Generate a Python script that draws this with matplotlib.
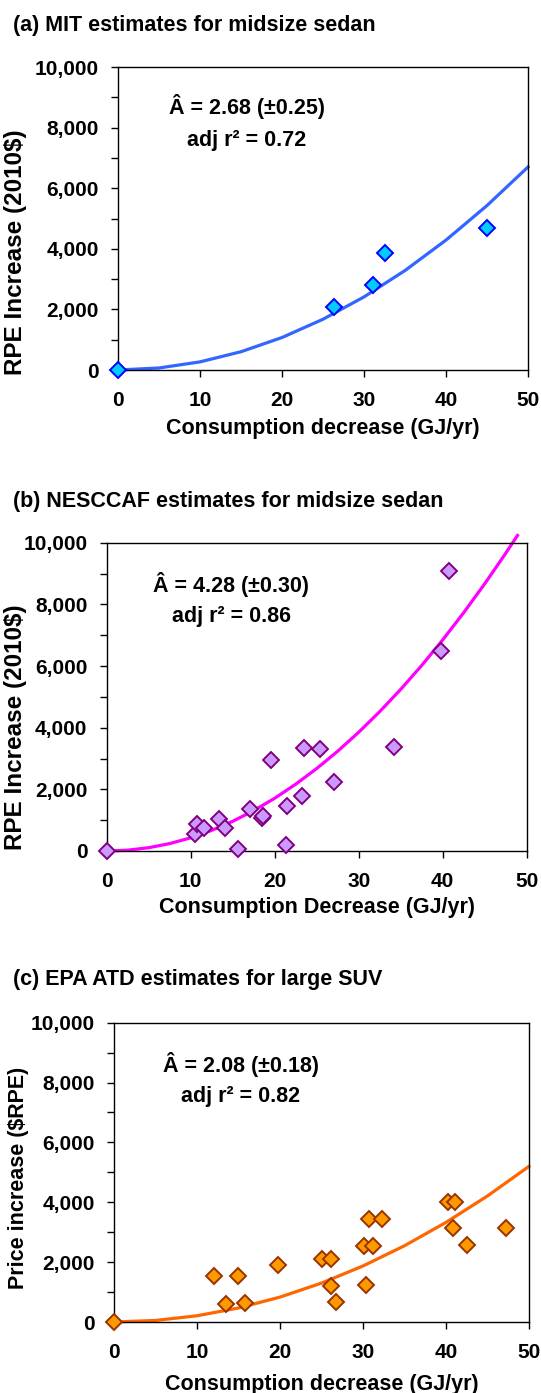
import numpy as np
import matplotlib
matplotlib.use('Agg')
import matplotlib.pyplot as plt
from matplotlib.ticker import MultipleLocator, FuncFormatter

plt.rcParams['font.family'] = ['Liberation Sans', 'DejaVu Sans']
plt.rcParams['font.weight'] = 'bold'

# (a) MIT midsize sedan
mit_x = [0, 26.3, 31.1, 32.6, 45.0]
mit_y = [0, 2090, 2810, 3870, 4700]
mit_fit_x = [0, 5, 10, 15, 20, 25, 30, 35, 40, 45, 50]
mit_fit_y = [0, 67, 268, 603, 1072, 1675, 2412, 3283, 4288, 5427, 6700]

# (b) NESCCAF midsize sedan
nes_x = [0, 10.5, 10.7, 11.6, 13.4, 14.1, 15.6, 17.0, 18.5, 18.6, 19.6,
         21.3, 21.5, 23.3, 23.5, 25.4, 27.0, 34.2, 39.8, 40.7]
nes_y = [0, 560, 886, 752, 1035, 752, 80, 1373, 1080, 1120, 2942,
         210, 1470, 1796, 3353, 3310, 2245, 3375, 6495, 9097]
nes_fit_x = [0, 2.5, 5, 7.5, 10, 12.5, 15, 17.5, 20, 22.5, 25, 27.5, 30,
             32.5, 35, 37.5, 40, 42.5, 45, 47.5, 48.9]
nes_fit_y = [0, 27, 107, 241, 428, 669, 963, 1311, 1712, 2167, 2675, 3237,
             3852, 4521, 5243, 6019, 6848, 7731, 8667, 9657, 10234]

# (c) EPA ATD large SUV
epa_x = [0, 12.0, 13.5, 14.9, 15.8, 19.8, 25.0, 26.1, 26.1, 26.8, 30.1,
         30.7, 31.2, 30.4, 32.3, 40.2, 41.1, 40.9, 42.5, 47.2]
epa_y = [0, 1530, 615, 1545, 635, 1920, 2095, 2105, 1215, 660, 2540,
         3430, 2540, 1250, 3430, 4010, 4010, 3135, 2580, 3150]
epa_fit_x = [0, 5, 10, 15, 20, 25, 30, 35, 40, 45, 50]
epa_fit_y = [0, 52, 208, 468, 832, 1300, 1872, 2548, 3328, 4212, 5200]

titles = ['(a) MIT estimates for midsize sedan',
          '(b) NESCCAF estimates for midsize sedan',
          '(c) EPA ATD estimates for large SUV']
ylabels = ['RPE Increase (2010$)', 'RPE Increase (2010$)', 'Price increase ($RPE)']
xlabels = ['Consumption decrease (GJ/yr)', 'Consumption Decrease (GJ/yr)',
           'Consumption decrease (GJ/yr)']
notes = [('Â = 2.68 (±0.25)', 'adj r² = 0.72'),
         ('Â = 4.28 (±0.30)', 'adj r² = 0.86'),
         ('Â = 2.08 (±0.18)', 'adj r² = 0.82')]

W, H = 541, 1393
fig = plt.figure(figsize=(W / 100, H / 100), dpi=100)

# pixel boxes: left, right, top, bottom
boxes = [(118, 528, 67, 370), (106.7, 526.7, 542.7, 851), (114, 529, 1022.7, 1322)]
title_y = [25, 502, 980]
ylab_pos = [(-0.222, 0.39), (-0.19, 0.40), (-0.205, 0.48)]
ylab_size = [17.5, 17.5, 15.5]
xlab_y = [-0.16, -0.15, -0.175]
note_pos = [(15.7, 8680, 7590), (14.8, 8660, 7620), (15.3, 8620, 7520)]

series = [(mit_x, mit_y, mit_fit_x, mit_fit_y, '#3366FF', '#00CCFF', '#0000FF'),
          (nes_x, nes_y, nes_fit_x, nes_fit_y, '#FF00FF', '#CC99FF', '#800080'),
          (epa_x, epa_y, epa_fit_x, epa_fit_y, '#FF6600', '#FF9900', '#993300')]

fmt = FuncFormatter(lambda v, p: '{:,.0f}'.format(v))

for i in range(3):
    l, r, t, b = boxes[i]
    ax = fig.add_axes([l / W, 1 - b / H, (r - l) / W, (b - t) / H])
    px, py, fx, fy, lc, fc, ec = series[i]
    ax.plot(fx, fy, color=lc, lw=2.3, clip_on=False, zorder=2)
    ax.plot(px, py, 'D', ms=8, mfc=fc, mec=ec, mew=1.4, ls='none',
            clip_on=False, zorder=3)
    ax.set_xlim(0, 50)
    ax.set_ylim(0, 10000)
    ax.xaxis.set_major_locator(MultipleLocator(10))
    ax.yaxis.set_major_locator(MultipleLocator(2000))
    ax.yaxis.set_minor_locator(MultipleLocator(1000))
    ax.yaxis.set_major_formatter(fmt)
    ax.tick_params(axis='both', which='both', direction='out', length=5,
                   width=1, labelsize=15, top=False, right=False)
    ax.tick_params(axis='y', pad=9)
    ax.tick_params(axis='x', pad=10)
    for s in ax.spines.values():
        s.set_linewidth(1)
    for lab in ax.get_xticklabels() + ax.get_yticklabels():
        lab.set_fontweight('bold')
    ax.set_ylabel(ylabels[i], fontsize=ylab_size[i], fontweight='bold')
    ax.yaxis.set_label_coords(*ylab_pos[i])
    ax.set_xlabel(xlabels[i], fontsize=15.5, fontweight='bold')
    ax.xaxis.set_label_coords(0.5, xlab_y[i])
    nx, ny1, ny2 = note_pos[i]
    ax.text(nx, ny1, notes[i][0], fontsize=15.5, fontweight='bold', ha='center', va='center')
    ax.text(nx, ny2, notes[i][1], fontsize=15.5, fontweight='bold', ha='center', va='center')
    fig.text(13 / W, 1 - title_y[i] / H, titles[i], fontsize=15.5, fontweight='bold',
             ha='left', va='center')

fig.savefig('out.png', dpi=100)
